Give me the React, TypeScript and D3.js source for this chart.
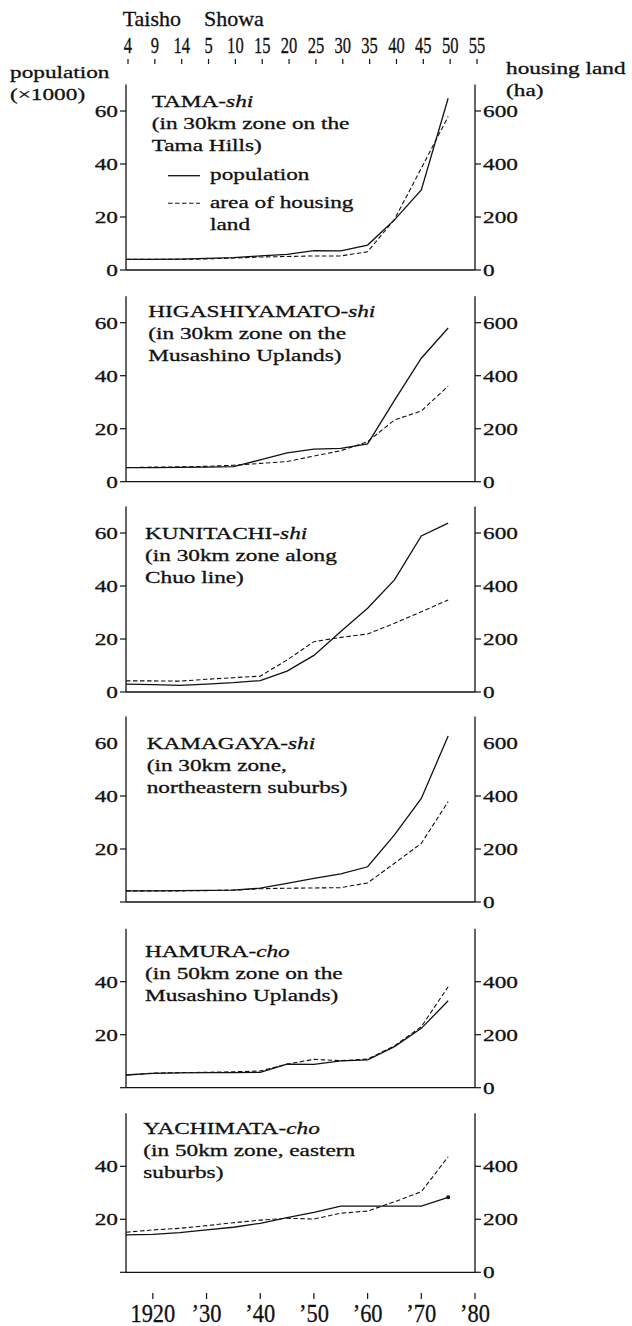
import React from "react";
import * as d3 from "d3";

// ---------- data ----------
const years = [1915, 1920, 1925, 1930, 1935, 1940, 1945, 1950, 1955, 1960, 1965, 1970, 1975];

const tamaPop = [4.0, 4.0, 4.1, 4.4, 4.7, 5.3, 5.9, 7.3, 7.2, 9.4, 18.9, 30.2, 64.8];
const tamaLand = [40, 40, 40, 42, 45, 49, 51, 53, 53, 69, 191, 384, 579];
const higashiPop = [5.3, 5.3, 5.4, 5.5, 5.7, 8.2, 10.9, 12.3, 12.6, 14.3, 30.7, 46.6, 58.0];
const higashiLand = [53, 55, 56, 58, 62, 69, 76, 97, 117, 151, 233, 267, 361];
const kunitachiPop = [3.0, 2.8, 2.5, 3.0, 3.5, 4.3, 7.9, 13.8, 22.8, 31.6, 42.3, 58.9, 63.7];
const kunitachiLand = [42, 42, 41, 48, 54, 60, 121, 190, 206, 219, 259, 303, 347];
const kamagayaPop = [4.2, 4.2, 4.3, 4.4, 4.5, 5.2, 7.0, 8.9, 10.6, 13.3, 25.3, 39.1, 62.6];
const kamagayaLand = [42, 42, 42, 43, 45, 50, 52, 53, 54, 72, 146, 221, 379];
const hamuraPop = [4.8, 5.4, 5.6, 5.7, 5.7, 5.8, 8.9, 8.8, 10.1, 10.5, 15.5, 22.4, 32.8];
const hamuraLand = [48, 55, 57, 58, 60, 63, 89, 107, 102, 108, 158, 230, 381];
const yachimataPop = [14.1, 14.3, 15.0, 16.0, 17.0, 18.5, 20.6, 22.6, 25.0, 25.0, 25.0, 25.0, 28.3];
const yachimataLand = [151, 160, 166, 176, 187, 197, 204, 201, 223, 231, 266, 304, 436];

const cityNames = ["TAMA", "HIGASHIYAMATO", "KUNITACHI", "KAMAGAYA", "HAMURA", "YACHIMATA"];
const citySuffixes = ["shi", "shi", "shi", "shi", "cho", "cho"];
const cityNotes = [
  ["(in 30km zone on the", "Tama Hills)"],
  ["(in 30km zone on the", "Musashino Uplands)"],
  ["(in 30km zone along", "Chuo line)"],
  ["(in 30km zone,", "northeastern suburbs)"],
  ["(in 50km zone on the", "Musashino Uplands)"],
  ["(in 50km zone, eastern", "suburbs)"],
];
const popSeries = [tamaPop, higashiPop, kunitachiPop, kamagayaPop, hamuraPop, yachimataPop];
const landSeries = [tamaLand, higashiLand, kunitachiLand, kamagayaLand, hamuraLand, yachimataLand];
const popMax = [70, 70, 70, 70, 60, 60];

const leftTickVals = [[0, 20, 40, 60], [0, 20, 40, 60], [0, 20, 40, 60], [0, 20, 40], [0, 20, 40], [0, 20, 40]];
const leftLabelVals = [[0, 20, 40, 60], [0, 20, 40, 60], [0, 20, 40, 60], [20, 40, 60], [20, 40], [20, 40]];
const rightTickVals = [[0, 200, 400, 600], [0, 200, 400, 600], [0, 200, 400, 600], [0, 200, 400], [0, 200, 400], [0, 200, 400]];
const rightLabelVals = [[0, 200, 400, 600], [0, 200, 400, 600], [0, 200, 400, 600], [0, 200, 400, 600], [0, 200, 400], [0, 200, 400]];

const topTickYears = [1915, 1920, 1925, 1930, 1935, 1940, 1945, 1950, 1955, 1960, 1965, 1970, 1975, 1980];
const topTickLabels = ["4", "9", "14", "5", "10", "15", "20", "25", "30", "35", "40", "45", "50", "55"];
const bottomTickYears = [1920, 1930, 1940, 1950, 1960, 1970, 1980];
const bottomTickLabels = ["1920", "\u201930", "\u201940", "\u201950", "\u201960", "\u201970", "\u201980"];

// ---------- layout ----------
const W = 632;
const H = 1326;
const X0 = 126;
const X1 = 475;
const PX_PER_UNIT = 2.65;
const panelZero = [270, 481.7, 692, 902, 1087.7, 1272.3];
const titleX = [151.7, 148.3, 145, 146.7, 145, 143.3];
const titleY = [107.3, 317, 539.3, 749.3, 956.7, 1134];
const LINE_GAP = 22;

const FONT = "'Liberation Serif','Times New Roman',serif";
const INK = "#111";

function T({ x, y, anchor = "start", size = 17.5, sx = 1.33, children }: any) {
  return (
    <text
      transform={`translate(${x},${y}) scale(${sx},1)`}
      textAnchor={anchor}
      fontSize={size}
      fontFamily={FONT}
      fill={INK}
      stroke={INK}
      strokeWidth={0.3}
    >
      {children}
    </text>
  );
}

const xScale = d3.scaleLinear().domain([1915, 1980]).range([X0, X1]);

function Panel({ i }: { i: number }) {
  const zero = panelZero[i];
  const max = popMax[i];
  const top = zero - max * PX_PER_UNIT;
  const yPop = d3.scaleLinear().domain([0, max]).range([zero, top]);
  const yLand = d3.scaleLinear().domain([0, max * 10]).range([zero, top]);
  const popLine = d3
    .line<number>()
    .x((_, k) => xScale(years[k]))
    .y((d) => yPop(d));
  const landLine = d3
    .line<number>()
    .x((_, k) => xScale(years[k]))
    .y((d) => yLand(d));
  const pop = popSeries[i];
  const land = landSeries[i];
  return (
    <g>
      {/* axes */}
      <line x1={X0} x2={X0} y1={top} y2={zero} stroke={INK} strokeWidth={1.3} />
      <line x1={X1} x2={X1} y1={top} y2={zero} stroke={INK} strokeWidth={1.3} />
      <line x1={X0} x2={X1} y1={zero} y2={zero} stroke={INK} strokeWidth={1.3} />
      {leftTickVals[i].map((v) => (
        <line key={"lt" + v} x1={X0 - 6} x2={X0} y1={yPop(v)} y2={yPop(v)} stroke={INK} strokeWidth={1.2} />
      ))}
      {leftLabelVals[i].map((v) => (
        <T key={"ll" + v} x={X0 - 8} y={yPop(v) + 6} anchor="end">
          {String(v)}
        </T>
      ))}
      {rightTickVals[i].map((v) => (
        <line key={"rt" + v} x1={X1} x2={X1 + 6} y1={yLand(v)} y2={yLand(v)} stroke={INK} strokeWidth={1.2} />
      ))}
      {rightLabelVals[i].map((v) => (
        <T key={"rl" + v} x={X1 + 8} y={yLand(v) + 6}>
          {String(v)}
        </T>
      ))}
      {/* series */}
      <path d={popLine(pop) || ""} fill="none" stroke={INK} strokeWidth={1.3} />
      <path d={landLine(land) || ""} fill="none" stroke={INK} strokeWidth={1.1} strokeDasharray="4.5 2.5" />
      {i === 5 && (
        <circle cx={xScale(years[years.length - 1])} cy={yPop(pop[pop.length - 1])} r={2} fill={INK} />
      )}
      {/* title */}
      <T x={titleX[i]} y={titleY[i]}>
        {cityNames[i]}-<tspan fontStyle="italic">{citySuffixes[i]}</tspan>
      </T>
      {cityNotes[i].map((s, k) => (
        <T key={"n" + k} x={titleX[i]} y={titleY[i] + LINE_GAP * (k + 1)}>
          {s}
        </T>
      ))}
    </g>
  );
}

export default function App() {
  return (
    <svg
      width={W}
      height={H}
      viewBox={`0 0 ${W} ${H}`}
      style={{ position: "absolute", left: 0, top: 0, background: "#fff" }}
    >
      <rect x={0} y={0} width={W} height={H} fill="#fff" />
      {/* top era axis */}
      <T x={122.7} y={26} size={22} sx={1}>
        Taisho
      </T>
      <T x={204} y={26} size={22} sx={1}>
        Showa
      </T>
      {topTickYears.map((yr, k) => (
        <g key={"tt" + yr}>
          <line x1={xScale(yr) + 2} x2={xScale(yr) + 2} y1={59} y2={64} stroke={INK} strokeWidth={1.2} />
          <T x={xScale(yr) + 2} y={52.5} anchor="middle" size={23} sx={0.72}>
            {topTickLabels[k]}
          </T>
        </g>
      ))}
      {/* axis titles */}
      <T x={10} y={78}>population</T>
      <T x={10} y={100}>(×1000)</T>
      <T x={506} y={74}>housing land</T>
      <T x={506} y={96}>(ha)</T>
      {/* legend */}
      <line x1={168} x2={200} y1={175.7} y2={175.7} stroke={INK} strokeWidth={1.3} />
      <T x={210} y={180}>population</T>
      <line x1={168} x2={200} y1={203.3} y2={203.3} stroke={INK} strokeWidth={1.1} strokeDasharray="4.5 2.5" />
      <T x={210} y={208.3}>area of housing</T>
      <T x={210} y={230}>land</T>
      {cityNames.map((_, i) => (
        <Panel key={i} i={i} />
      ))}
      {/* bottom year axis */}
      {bottomTickYears.map((yr, k) => (
        <g key={"bt" + yr}>
          <line x1={xScale(yr)} x2={xScale(yr)} y1={1293} y2={1299} stroke={INK} strokeWidth={1.2} />
          <T x={xScale(yr)} y={1322} anchor="middle" size={25.5} sx={0.88}>
            {bottomTickLabels[k]}
          </T>
        </g>
      ))}
    </svg>
  );
}
